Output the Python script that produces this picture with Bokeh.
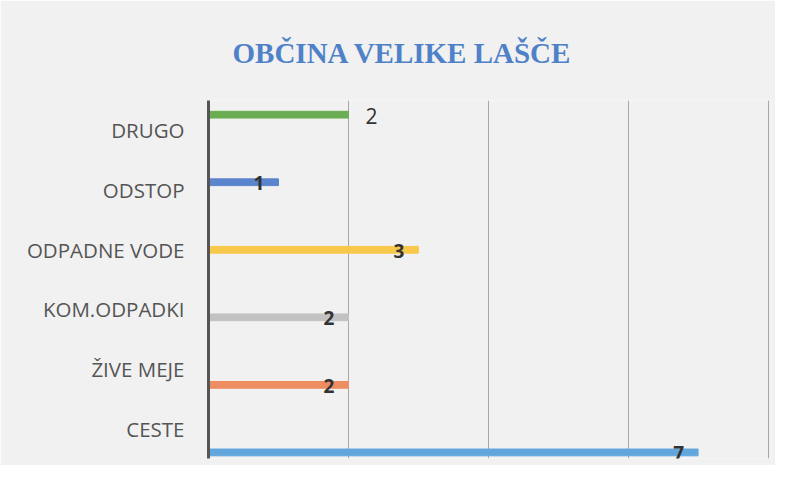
from bokeh.plotting import figure
from bokeh.models import (ColumnDataSource, Range1d, LinearAxis, Grid, FixedTicker,
                          LabelSet, Title)
from bokeh.core.properties import value
from bokeh.embed import file_html
from bokeh.resources import INLINE

# ---- data (top to bottom as shown) ----
categories = ["DRUGO", "ODSTOP", "ODPADNE VODE", "KOM.ODPADKI", "ŽIVE MEJE", "CESTE"]
values = [2, 1, 3, 2, 2, 7]
bar_colors = ["#6aad52", "#5a84cc", "#f8c84a", "#c2c2c2", "#ee8c62", "#62a6de"]
grid_ticks = [2, 4, 6, 8]
title_text = "OBČINA VELIKE LAŠČE"

n = len(categories)
ypos = [n - 1 - i for i in range(n)]
labels = [str(v) for v in values]
src = ColumnDataSource(dict(cat=categories, val=values, y=ypos, color=bar_colors, lbl=labels))
# first series label sits outside its bar, the others inside the bar end
src_out = ColumnDataSource(dict(val=values[:1], y=ypos[:1], lbl=labels[:1]))
src_in = ColumnDataSource(dict(val=values[1:], y=ypos[1:], lbl=labels[1:]))

BG = "#f1f1f1"
p = figure(width=775, height=465, output_backend="svg", toolbar_location=None,
           x_range=Range1d(0, 8.05), y_range=Range1d(-0.09, 5.21),
           x_axis_location=None, y_axis_location=None,
           min_border_left=208, min_border_right=4, min_border_top=100,
           min_border_bottom=7, background_fill_color=BG, border_fill_color=BG,
           outline_line_color=None)
p.xgrid.visible = False
p.ygrid.visible = False

p.add_layout(Grid(dimension=0, ticker=FixedTicker(ticks=grid_ticks),
                  grid_line_color="#a8a8a8", grid_line_width=1))

# category labels sit centred in equal bands (axis range -0.5 .. n-0.5)
p.extra_y_ranges = {"cats": Range1d(-0.5, n - 0.5)}
ax = LinearAxis(y_range_name="cats", ticker=FixedTicker(ticks=ypos),
                major_label_overrides={y: c for y, c in zip(ypos, categories)})
ax.axis_line_color = "#555555"
ax.axis_line_width = 3
ax.major_tick_line_color = None
ax.minor_tick_line_color = None
ax.major_label_text_font = "Open Sans"
ax.major_label_text_font_size = "20.5px"
ax.major_label_text_color = "#555555"
ax.major_label_standoff = 18
p.add_layout(ax, "left")

p.hbar(y="y", left=0, right="val", height=0.1, color="color", source=src)

p.add_layout(LabelSet(x="val", y="y", text="lbl", source=src_in,
                      text_font=value("Open Sans"), text_font_style="bold",
                      text_font_size="19px",
                      text_color="#333333", text_align="right", text_baseline="middle",
                      x_offset=-14, y_offset=-1))
p.add_layout(LabelSet(x="val", y="y", text="lbl", source=src_out,
                      text_font=value("Open Sans"), text_font_size="21px",
                      text_color="#333333", text_align="left", text_baseline="middle",
                      x_offset=17, y_offset=-1))

t = Title(text=title_text, align="left", offset=24, standoff=64,
          text_font="Liberation Serif", text_font_style="bold",
          text_font_size="29px", text_color="#4f81c8")
p.add_layout(t, "above")

open("out.html", "w").write(file_html(p, INLINE))
